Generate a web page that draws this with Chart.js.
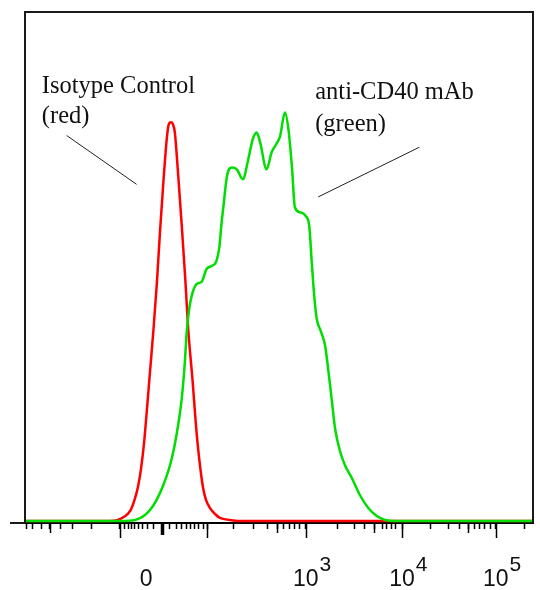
<!DOCTYPE html>
<html>
<head>
<meta charset="utf-8">
<title>CD40 staining histogram</title>
<script src="https://cdn.jsdelivr.net/npm/chart.js@4.4.1/dist/chart.umd.min.js"></script>
<style>
  html, body { margin: 0; padding: 0; background: #fff; }
</style>
</head>
<body>
<canvas id="histChart" width="540" height="590"></canvas>
<script>

// display channel (0-1024, biexponential axis) and event counts
const redX = [0, 171, 187, 199, 212, 220, 228, 234, 240, 246, 252, 259, 266, 272, 279, 286, 290, 294, 298, 302,
              309, 316, 323, 329, 338, 345, 351, 359, 365, 373, 383, 393, 413, 433, 1024];
const redY = [0, 0, 0.6, 2.3, 5.9, 11.7, 20.5, 31, 46, 66.5, 88, 113, 141, 170, 200, 226, 234, 235, 234, 229,
              203, 174, 143, 113, 82, 55, 37, 19.4, 12.3, 7.6, 4.1, 1.8, 0.6, 0, 0];

const greenX = [0, 192, 222, 242, 258, 272, 284, 296, 306, 316, 322, 326, 331, 336, 346, 356, 366, 376, 385, 392,
                396, 400, 407, 417, 427, 439, 450, 459, 467, 474, 487, 497, 506, 514, 524, 531, 538, 544, 554, 566,
                573, 578, 583, 588, 596, 605, 611, 618, 625, 635, 645, 659, 675, 692, 709, 726, 746, 1024];
const greenY = [0, 0, 0.6, 3.5, 8.8, 16.4, 25.2, 37, 51.7, 72.2, 92.8, 111.5, 125, 132.7, 139.7, 140.9, 148.5, 150.3, 152.6, 162,
                175, 185.5, 203.1, 208.4, 207.3, 201.4, 213.1, 224.9, 229, 223.1, 207.3, 217.2, 221.9, 226.6, 240.7, 230.8, 209, 184.9, 182, 179.7,
                173.8, 152.6, 132.7, 119.2, 112.1, 103.3, 89.8, 72.2, 54.6, 41.1, 32.9, 25.2, 15.3, 7.6, 2.9, 0.6, 0, 0];

// axis ticks, in display channels
const minorTicks = [4, 16, 34, 71, 95, 135, 200, 208, 214, 220, 228, 236, 246, 260,
                    292, 306, 316, 325, 333, 341, 349, 359, 421, 460, 488, 522, 534, 544, 554,
                    629, 665, 685, 720, 728, 738, 746, 818, 853, 875, 907, 917, 927, 939, 1006];
const mediumTicks = [50, 508, 704, 893];
const majorTicks = [191, 367, 566, 760, 949];
const zeroTick = 276;

const tickLabelPos = [244, 566, 760, 949];
const tickLabelBase = ['0', '10', '10', '10'];
const tickLabelExp = ['', '3', '4', '5'];

// callouts: text lines and pointer lines, in data units
const notes = [
  { x: 34, lines: ['Isotype Control', '(red)'], y: [252.5, 234.8], from: [84, 227.2], to: [225, 198.4] },
  { x: 585, lines: ['anti-CD40 mAb', '(green)'], y: [248.7, 229.7], from: [591, 191], to: [795, 220.3] }
];

const toPoints = (xs, ys) => xs.map((x, i) => ({ x: x, y: ys[i] }));

const overlay = {
  id: 'overlay',
  afterDraw(chart) {
    const ctx = chart.ctx;
    const area = chart.chartArea;
    const xs = chart.scales.x;
    const ys = chart.scales.y;
    ctx.save();

    // frame around the plot
    ctx.strokeStyle = '#1a1a1a';
    ctx.lineWidth = 2;
    ctx.beginPath();
    ctx.moveTo(area.left, area.bottom);
    ctx.lineTo(area.left, area.top);
    ctx.lineTo(area.right, area.top);
    ctx.lineTo(area.right, area.bottom);
    ctx.stroke();
    ctx.beginPath();
    ctx.moveTo(area.left - 15, area.bottom);
    ctx.lineTo(area.left, area.bottom);
    ctx.stroke();

    // longer ticks
    ctx.strokeStyle = '#000';
    ctx.lineWidth = 1.5;
    const tick = (v, len) => {
      const px = Math.round(xs.getPixelForValue(v)) + 0.5;
      ctx.beginPath();
      ctx.moveTo(px, area.bottom);
      ctx.lineTo(px, area.bottom + len);
      ctx.stroke();
    };
    mediumTicks.forEach(v => tick(v, 10));
    majorTicks.forEach(v => tick(v, 15));
    ctx.lineWidth = 3.5;
    tick(zeroTick, 12);

    // tick labels
    ctx.fillStyle = '#111';
    ctx.textBaseline = 'alphabetic';
    const base = area.bottom + 63;
    tickLabelPos.forEach((v, i) => {
      const px = xs.getPixelForValue(v);
      ctx.font = '23px "Liberation Sans", Arial, sans-serif';
      ctx.textAlign = 'center';
      ctx.fillText(tickLabelBase[i], px, base);
      if (tickLabelExp[i]) {
        const w = ctx.measureText(tickLabelBase[i]).width;
        ctx.font = '21px "Liberation Sans", Arial, sans-serif';
        ctx.textAlign = 'left';
        ctx.fillText(tickLabelExp[i], px + w / 2 + 1, base - 15);
      }
    });

    // callouts
    ctx.font = '24.5px "Liberation Serif", "Times New Roman", serif';
    ctx.textAlign = 'left';
    notes.forEach(n => {
      n.lines.forEach((t, i) => ctx.fillText(t, xs.getPixelForValue(n.x), ys.getPixelForValue(n.y[i])));
      ctx.strokeStyle = '#222';
      ctx.lineWidth = 1;
      ctx.beginPath();
      ctx.moveTo(xs.getPixelForValue(n.from[0]), ys.getPixelForValue(n.from[1]));
      ctx.lineTo(xs.getPixelForValue(n.to[0]), ys.getPixelForValue(n.to[1]));
      ctx.stroke();
    });
    ctx.restore();
  }
};

new Chart(document.getElementById('histChart').getContext('2d'), {
  type: 'line',
  data: {
    datasets: [
      {
        label: 'Isotype Control',
        data: toPoints(redX, redY),
        borderColor: '#ff0000',
        borderWidth: 2.5,
        pointRadius: 0,
        cubicInterpolationMode: 'monotone',
        fill: false,
        order: 2
      },
      {
        label: 'anti-CD40 mAb',
        data: toPoints(greenX, greenY),
        borderColor: '#00dd00',
        borderWidth: 2.5,
        pointRadius: 0,
        cubicInterpolationMode: 'monotone',
        fill: false,
        order: 1
      }
    ]
  },
  options: {
    responsive: false,
    animation: false,
    layout: { padding: { left: 25, top: 12, right: 7, bottom: 61 } },
    plugins: { legend: { display: false }, tooltip: { enabled: false } },
    scales: {
      x: {
        type: 'linear',
        min: 0,
        max: 1024,
        afterBuildTicks: axis => {
          axis.ticks = minorTicks.concat(mediumTicks, majorTicks).map(v => ({ value: v }));
        },
        grid: { drawOnChartArea: false, tickLength: 6, tickColor: '#000', tickWidth: 1.5 },
        border: { display: true, color: '#000', width: 2 },
        ticks: { display: false, autoSkip: false }
      },
      y: {
        type: 'linear',
        min: -1.2,
        max: 300,
        display: false
      }
    }
  },
  plugins: [overlay]
});
</script>
</body>
</html>
